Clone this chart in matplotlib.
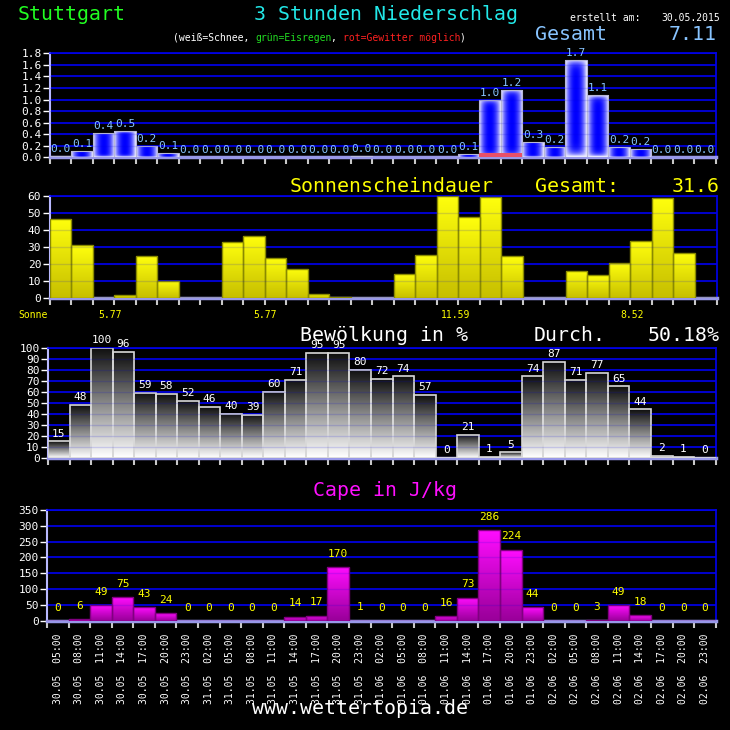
import numpy as np
import matplotlib
matplotlib.use("Agg")
import matplotlib.pyplot as plt

# --- data (31 three-hour steps, 30.05 05:00 .. 02.06 23:00) ---
dates = ["30.05"] * 7 + ["31.05"] * 8 + ["01.06"] * 8 + ["02.06"] * 8
hours = (["05:00", "08:00", "11:00", "14:00", "17:00", "20:00", "23:00"]
         + ["02:00", "05:00", "08:00", "11:00", "14:00", "17:00", "20:00", "23:00"] * 3)

precip = [0.02, 0.11, 0.42, 0.45, 0.20, 0.08, 0, 0, 0, 0, 0, 0, 0, 0, 0.02, 0,
          0, 0, 0, 0.05, 0.99, 1.17, 0.26, 0.17, 1.68, 1.07, 0.17, 0.15, 0, 0, 0]
precip_labels = ["0.0", "0.1", "0.4", "0.5", "0.2", "0.1", "0.0", "0.0", "0.0", "0.0",
                 "0.0", "0.0", "0.0", "0.0", "0.0", "0.0", "0.0", "0.0", "0.0", "0.1",
                 "1.0", "1.2", "0.3", "0.2", "1.7", "1.1", "0.2", "0.2", "0.0", "0.0", "0.0"]
thunder = [0] * 20 + [0.07, 0.07] + [0] * 9

sun = [46.4, 30.9, 0, 1.9, 24.5, 10.1, 0, 0, 32.8, 36.3, 23.5, 17.1, 2.5, 0.8, 0, 0,
       14.2, 25.4, 59.8, 47.2, 59.0, 24.5, 0, 0, 15.9, 13.4, 20.6, 33.4, 58.6, 26.4, 0]
sun_days = ["5.77", "5.77", "11.59", "8.52"]
sun_day_x = [110, 265, 456, 632]

clouds = [15, 48, 100, 96, 59, 58, 52, 46, 40, 39, 60, 71, 95, 95, 80, 72, 74, 57,
          0, 21, 1, 5, 74, 87, 71, 77, 65, 44, 2, 1, 0]

cape = [0, 6, 49, 75, 43, 24, 0, 0, 0, 0, 0, 14, 17, 170, 1, 0, 0, 0, 16, 73, 286,
        224, 44, 0, 0, 3, 49, 18, 0, 0, 0]

MONO = "DejaVu Sans Mono"
W = H = 730
fig = plt.figure(figsize=(7.3, 7.3), dpi=100, facecolor="black")


def px_axes(l, t, r, b):
    return fig.add_axes([l / W, 1 - b / H, (r - l) / W, (b - t) / H])


def ftext(x, y, s, color, size, ha="left", va="center", **kw):
    fig.text(x / W, 1 - y / H, s, color=color, fontsize=size, ha=ha, va=va,
             family=MONO, **kw)


def setup(ax, ymax, ystep, fmt):
    n = len(dates)
    ax.set_facecolor("black")
    ax.set_xlim(0, n)
    ax.set_ylim(0, ymax)
    yt = np.arange(0, ymax + ystep / 2, ystep)
    ax.set_yticks(yt)
    ax.set_yticklabels([fmt % v for v in yt], family=MONO, fontsize=8, color="white")
    ax.set_xticks(np.arange(0, n + 1))
    ax.set_xticklabels([])
    ax.tick_params(axis="y", colors="white", length=5, width=1, pad=1)
    ax.tick_params(axis="x", colors="#c8c8c8", length=5, width=1.5, direction="out")
    for v in yt[1:]:
        ax.axhline(v, color="#0000dd", lw=1.3, zorder=1)
        ax.axhline(v, color="#0000dd", lw=1.0, alpha=0.15, zorder=5)
    ax.spines["left"].set_color("#b8b8ff")
    ax.spines["left"].set_linewidth(1.5)
    ax.spines["bottom"].set_color("#9898e8")
    ax.spines["bottom"].set_linewidth(2.5)
    for s in ("top", "right"):
        ax.spines[s].set_color("#0000ee")
        ax.spines[s].set_linewidth(1.2)


def gradient_bars(ax, values, img, edge, lw=1.0):
    x = np.arange(len(values)) + 0.5
    bars = ax.bar(x, values, width=1.0, color="none", edgecolor=edge, lw=lw, zorder=4)
    for rect, v in zip(bars, values):
        if v <= 0:
            continue
        x0 = rect.get_x()
        im = ax.imshow(img, extent=(x0, x0 + 1, 0, v), aspect="auto",
                       interpolation="bilinear", origin="upper", zorder=3)
        im.set_clip_path(rect)
    return bars


def vgrad(top, bottom, n=64):
    t = np.linspace(0, 1, n)[:, None, None]
    top = np.array(top)[None, None, :]
    bottom = np.array(bottom)[None, None, :]
    return (top * (1 - t) + bottom * t).repeat(4, axis=1)


def value_labels(ax, values, labels, color, off=2):
    for i, (v, s) in enumerate(zip(values, labels)):
        ax.annotate(s, (i + 0.5, v), xytext=(0, off), textcoords="offset points",
                    ha="center", va="bottom", fontsize=8, color=color, family=MONO,
                    zorder=6, annotation_clip=False)


# --- header ---
ftext(18, 15, "Stuttgart", "#22ff22", 14.3)
ftext(386, 15, "3 Stunden Niederschlag", "#22e8e8", 14.3, ha="center")
ftext(570, 18, "erstellt am:", "white", 7)
ftext(720, 18, "30.05.2015", "white", 7, ha="right")
ftext(535, 35, "Gesamt", "#88c4ff", 14.3)
ftext(717, 35, "7.11", "#88c4ff", 14.3, ha="right")
legend_parts = [("(weiß=Schnee, ", "white"), ("grün=Eisregen", "#22dd22"),
                (", ", "white"), ("rot=Gewitter möglich", "#ff2020"), (")", "white")]
cx = 173
for s, c in legend_parts:
    ftext(cx, 38, s, c, 7)
    cx += len(s) * 5.85

# --- precipitation ---
ax1 = px_axes(50, 53.3, 715.5, 157.3)
setup(ax1, 1.8, 0.2, "%.1f")
u = np.linspace(-1, 1, 48)[None, :]
v = np.linspace(-1, 1, 64)[:, None]
w = 1 - (1 - np.abs(u) ** 2.2) * (1 - np.abs(v) ** 12)
pimg = np.dstack([0.93 * w, 0.93 * w, np.ones_like(w)])
gradient_bars(ax1, precip, pimg, "#b8b8d8", 0.8)
ax1.bar(np.arange(len(thunder)) + 0.5, thunder, width=1.0, color="#e85068",
        lw=0, zorder=4.5)
value_labels(ax1, precip, precip_labels, "#88c4ff", off=1.5)

# --- sunshine ---
ftext(290, 186, "Sonnenscheindauer", "#ffff00", 14.3)
ftext(535, 186, "Gesamt:", "#ffff00", 14.3)
ftext(720, 186, "31.6", "#ffff00", 14.3, ha="right")
ax2 = px_axes(49.5, 195.5, 716.5, 298.3)
setup(ax2, 60, 10, "%d")
gradient_bars(ax2, sun, vgrad((1, 1, 0.05), (0.78, 0.75, 0)), "#8a8a00", 1.0)
ftext(18, 315.5, "Sonne", "#ffff00", 7)
for s, x in zip(sun_days, sun_day_x):
    ftext(x, 315.5, s, "#ffff00", 7, ha="center")

# --- clouds ---
ftext(300, 335, "Bewölkung in %", "white", 14.3)
ftext(534, 335, "Durch.", "white", 14.3)
ftext(720, 335, "50.18%", "white", 14.3, ha="right")
ax3 = px_axes(48, 347.7, 715.6, 458)
setup(ax3, 100, 10, "%d")
gradient_bars(ax3, clouds, vgrad((0.06, 0.06, 0.06), (1, 1, 1)), "#d8d8d8", 1.2)
value_labels(ax3, clouds, [str(c) for c in clouds], "white")

# --- cape ---
ftext(385, 491, "Cape in J/kg", "#ff10ff", 14.3, ha="center")
ax4 = px_axes(47, 509.7, 715.7, 621)
setup(ax4, 350, 50, "%d")
gradient_bars(ax4, cape, vgrad((1, 0.05, 1), (0.6, 0, 0.6)), "#800080", 1.0)
value_labels(ax4, cape, [str(c) for c in cape], "#ffff00", off=6)

centers = np.arange(len(dates)) + 0.5
ax4.set_xticks(centers, minor=True)
ax4.set_xticklabels([f"{d}  {h}" for d, h in zip(dates, hours)], minor=True,
                    rotation=90, family=MONO, fontsize=7, color="white")
ax4.tick_params(axis="x", which="minor", length=0, pad=9)

ftext(360, 708, "www.wettertopia.de", "white", 14.3, ha="center")

fig.savefig("out.png", dpi=100, facecolor="black")
